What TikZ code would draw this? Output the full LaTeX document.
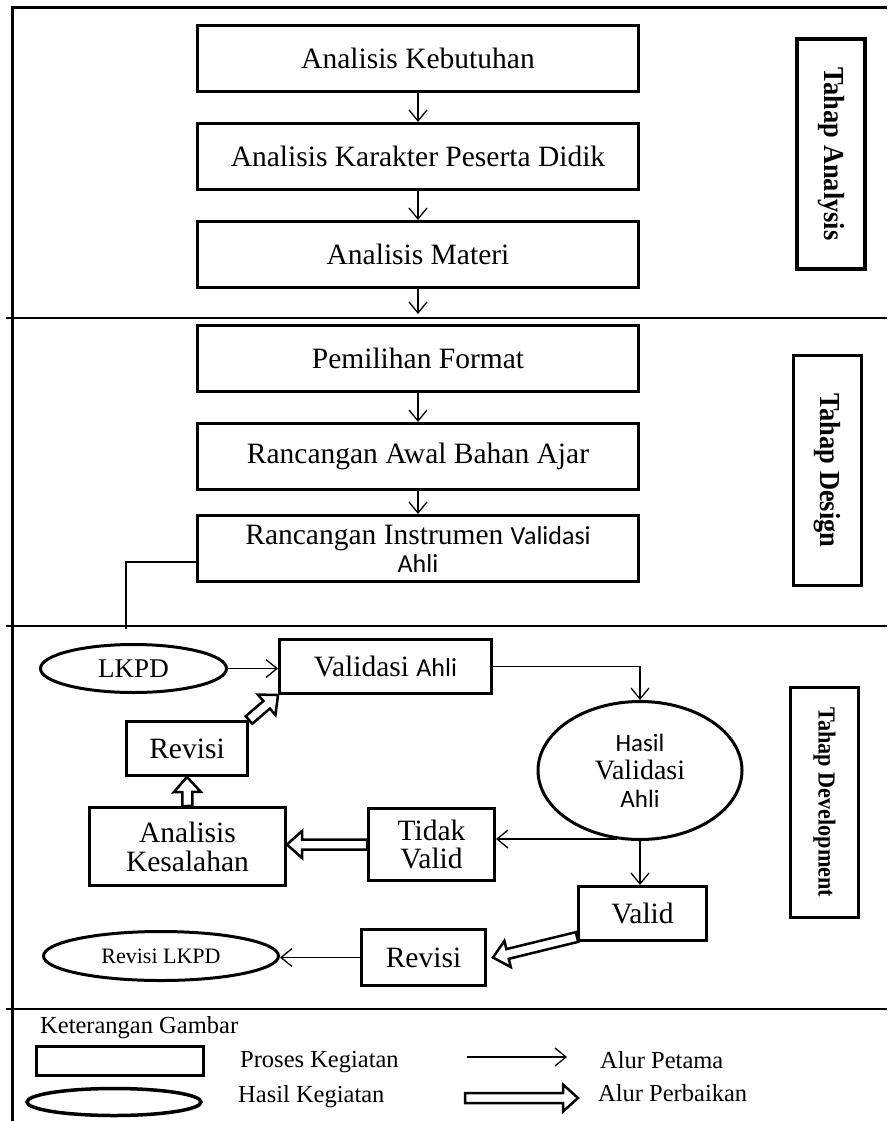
\documentclass[tikz,border=0pt]{standalone}
\usepackage{fontspec}
\setmainfont{Liberation Serif}
\newfontfamily\calf{Carlito}
\newfontfamily\labf{Liberation Serif}
\usetikzlibrary{arrows.meta,shapes.geometric,calc}
\newcommand\hollowarr[2]{%
  \draw[hollow] let \p1=(#1), \p2=(#2),
    \n1={atan2(\y2-\y1,\x2-\x1)}, \n2={veclen(\x2-\x1,\y2-\y1)} in
    [shift={(\p1)}, rotate=\n1]
    (0,5) -- ({\n2-15},5) -- ({\n2-15},13.5) -- (\n2,0) -- ({\n2-15},-13.5) -- ({\n2-15},-5) -- (0,-5) -- cycle;}
\newcommand\sansp[1]{{\calf\fontsize{26}{28}\selectfont #1}}
\newcommand\sanss[1]{{\calf\fontsize{25}{28}\selectfont #1}}
\begin{document}
\begin{tikzpicture}[x=1pt,y=-1pt,
  box/.style={draw, line width=3pt, inner sep=0pt, align=center, font=\fontsize{29.5}{30}\selectfont},
  ell/.style={box, ellipse},
  lab/.style={draw, line width=3.5pt, inner sep=0pt, minimum width=68pt, minimum height=230pt},
  flow/.style={line width=1.3pt, -{Straight Barb[length=11pt,width=18pt]}},
  sep/.style={line width=2pt},
  hollow/.style={line width=2.5pt, fill=white, line join=miter},
  legtext/.style={anchor=west, inner sep=0pt, font=\fontsize{24.5}{28}\selectfont}]
\useasboundingbox (0,0) rectangle (887,1121);
% frame and dividers
\draw[line width=3pt] (12,1121) -- (12,8) -- (887,8);
\draw[sep] (6,318) -- (887,318);
\draw[sep] (6,626) -- (887,626);
\draw[sep] (6,1009) -- (887,1009);
% analysis
\node[box, minimum width=441pt, minimum height=66pt] (b1) at (418,58.5) {Analisis Kebutuhan};
\node[box, minimum width=441pt, minimum height=66pt] (b2) at (418,156.5) {Analisis Karakter Peserta Didik};
\node[box, minimum width=441pt, minimum height=66pt] (b3) at (418,254.5) {Analisis Materi};
\coordinate (e3) at (418,314);
\draw[flow] (b1.south) -- (b2.north);
\draw[flow] (b2.south) -- (b3.north);
\draw[flow] (b3.south) -- (e3);
% design
\node[box, minimum width=441pt, minimum height=66pt] (b4) at (418,358.5) {Pemilihan Format};
\node[box, minimum width=441pt, minimum height=66pt] (b5) at (418,456.5) {Rancangan Awal Bahan Ajar};
\node[box, minimum width=441pt, minimum height=66pt, font=\fontsize{29.5}{28}\selectfont] (b6) at (418,548.5) {Rancangan Instrumen \sansp{Validasi}\\\sansp{Ahli}};
\draw[flow] (b4.south) -- (b5.north);
\draw[flow] (b5.south) -- (b6.north);
\coordinate (c1) at (126,562);
\coordinate (c2) at (126,629);
\draw[line width=1.3pt] (b6.west |- c1) -- (c1) -- (c2);
% labels
\node[lab] (tA) at (831,154) {\rotatebox{-90}{\scalebox{1}[1.1]{\labf\bfseries\fontsize{26.4}{30}\selectfont Tahap Analysis}}};
\node[lab] (tD) at (827.5,470.5) {\rotatebox{-90}{\scalebox{1}[1.1]{\labf\bfseries\fontsize{26.4}{30}\selectfont Tahap Design}}};
\node[lab] (tV) at (824.5,802.5) {\rotatebox{-90}{\scalebox{1}[1.1]{\labf\bfseries\fontsize{22.2}{26}\selectfont Tahap Development}}};
% development
\node[ell, minimum width=186pt, minimum height=48pt, font=\fontsize{27}{30}\selectfont] (lkpd) at (133.5,668.5) {LKPD};
\node[box, minimum width=212pt, minimum height=54pt] (valA) at (385.5,666.5) {Validasi \sansp{Ahli}};
\node[box, minimum width=121pt, minimum height=54pt] (revA) at (187,748.5) {Revisi};
\node[box, minimum width=196pt, minimum height=78pt, font=\fontsize{29.5}{29}\selectfont] (anK) at (187.5,846.5) {Analisis\\Kesalahan};
\node[box, minimum width=126pt, minimum height=72pt, font=\fontsize{29.5}{28}\selectfont] (tidak) at (431.5,844.5) {Tidak\\Valid};
\node[ell, minimum width=204pt, minimum height=138pt, font=\fontsize{28}{28}\selectfont] (hasil) at (640,770.5) {\sanss{Hasil}\\Validasi\\\sanss{Ahli}};
\node[box, minimum width=128pt, minimum height=54pt] (valid) at (642.5,913.5) {Valid};
\node[box, minimum width=124pt, minimum height=56pt] (revB) at (423.5,957.5) {Revisi};
\node[ell, minimum width=235pt, minimum height=49pt, font=\fontsize{22}{26}\selectfont] (rl) at (161,956) {Revisi LKPD};
\draw[flow] (lkpd.east) -- (lkpd.east -| valA.west);
\draw[flow] (valA.east) -| (hasil.north);
\coordinate (h1) at (617,839);
\draw[flow] (h1) -- (h1 -| tidak.east);
\draw[flow] (hasil.south) -- (hasil.south |- valid.north);
\draw[flow] (revB.west) -- (revB.west -| rl.east);
\hollowarr{revA.north east}{valA.south west}
\hollowarr{anK.north}{revA.south}
\hollowarr{tidak.west}{tidak.west -| anK.east}
\coordinate (v1) at ($(valid.south west)+(0,-5)$);
\coordinate (v2) at ($(revB.east)+(6,0)$);
\hollowarr{v1}{v2}
% legend
\node[legtext] (kg) at (40,1028) {Keterangan Gambar};
\node[draw, line width=3.5pt, minimum width=167pt, minimum height=29pt, inner sep=0pt] (lr) at (120,1061) {};
\node[legtext] (lpk) at (240,1062) {Proses Kegiatan};
\node[draw, ellipse, line width=3.5pt, minimum width=174pt, minimum height=27pt, inner sep=0pt] (le) at (114,1102) {};
\node[legtext] (lhk) at (238,1097) {Hasil Kegiatan};
\coordinate (la1) at (467,1057);
\coordinate (la2) at (567,1057);
\draw[flow] (la1) -- (la2);
\node[legtext] (lap) at (600,1060) {Alur Petama};
\coordinate (lb1) at (465,1098);
\coordinate (lb2) at (578,1098);
\hollowarr{lb1}{lb2}
\node[legtext] (lab2) at (598,1093) {Alur Perbaikan};
\end{tikzpicture}
\end{document}
